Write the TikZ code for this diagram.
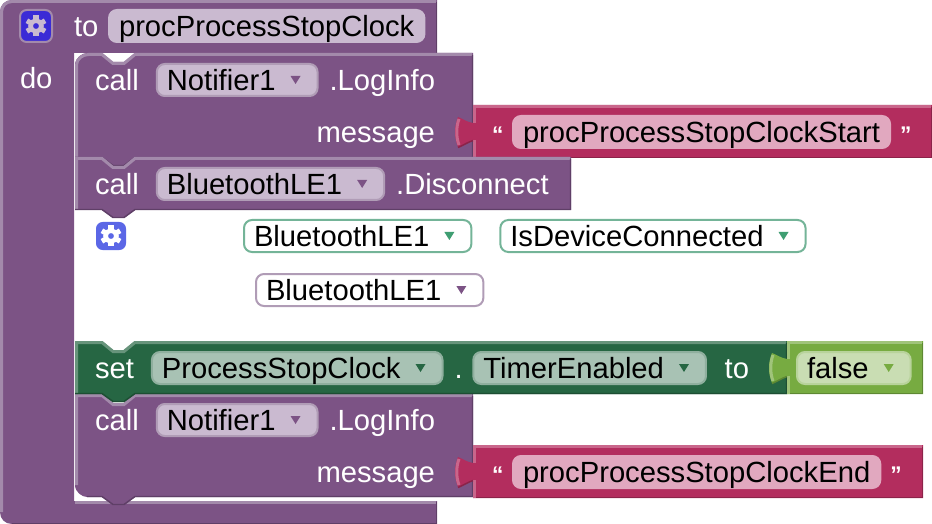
\documentclass[tikz,border=0pt]{standalone}
\usepackage{fontspec}
\setmainfont{Liberation Sans}
\usepackage{xcolor}
\definecolor{procmain}{HTML}{7C5385}
\definecolor{proclight}{HTML}{A38AAB}
\definecolor{procdark}{HTML}{5F3F67}
\definecolor{procfield}{HTML}{CABAD0}
\definecolor{procedge}{HTML}{B09CB6}
\definecolor{setmain}{HTML}{266643}
\definecolor{setlight}{HTML}{67947B}
\definecolor{setdark}{HTML}{1D4E33}
\definecolor{setfield}{HTML}{A8C2B4}
\definecolor{setedge}{HTML}{8FAF9E}
\definecolor{textmain}{HTML}{B32D5E}
\definecolor{textlight}{HTML}{C9668B}
\definecolor{textdark}{HTML}{8C2349}
\definecolor{textfield}{HTML}{E1A8BF}
\definecolor{limemain}{HTML}{77AB41}
\definecolor{limelight}{HTML}{A0C47A}
\definecolor{limedark}{HTML}{5E8833}
\definecolor{limefield}{HTML}{C9DDB3}
\definecolor{limeedge}{HTML}{B8D39B}
\definecolor{mintedge}{HTML}{74B498}
\definecolor{minttri}{HTML}{3F9E72}
\definecolor{gearblue}{HTML}{3A2BD6}
\definecolor{gearsoft}{HTML}{5B67E6}
\usepackage{tikz}
\usetikzlibrary{positioning}
% statement block with notch on top and tab below
\newcommand{\stackblock}[8]{
  \fill[#1] (75,#5+#7) .. controls (75,#5+#7*0.4) and (75+#7*0.6,#5) .. (75+#7,#5) -- (102,#5) -- (113,#5+9) -- (124,#5+9) -- (135,#5) -- (#4,#5) -- (#4,#6) -- (135,#6) -- (124,#6+8) -- (113,#6+8) -- (102,#6) -- (75+#8,#6) .. controls (75+#8*0.6,#6) and (75,#6-#8*0.4) .. (75,#6-#8) -- cycle;
  \draw[#2,edge] (76.5,#6-#8) -- (76.5,#5+#7) .. controls (76.5,#5+#7*0.5) and (76.5+#7*0.5,#5+1.5) .. (76.5+#7,#5+1.5) -- (102,#5+1.5) -- (113,#5+10.5) -- (124,#5+10.5) -- (135,#5+1.5) -- (#4-1,#5+1.5);
  \draw[#3,rim] (#4-0.5,#5+2) -- (#4-0.5,#6-0.5) -- (135,#6-0.5) -- (124,#6+7.5) -- (113,#6+7.5) -- (102,#6-0.5) -- (75+#8,#6-0.5);
}
% value block with the puzzle tab on its left side
\newcommand{\valueblock}[7]{
  \fill[#1] (#4,#6) -- (#5,#6) -- (#5,#7) -- (#4,#7) -- (#4,#6+35) .. controls (#4-6,#6+37) and (#4-10,#6+40) .. (#4-15,#6+42) .. controls (#4-19,#6+32) and (#4-19,#6+22) .. (#4-15,#6+12) .. controls (#4-10,#6+14) and (#4-6,#6+17) .. (#4,#6+18) -- cycle;
  \draw[#2,edge] (#4+1.5,#7) -- (#4+1.5,#6+35);
  \draw[#2,edge] (#4+1.5,#6+18) -- (#4+1.5,#6+1.5) -- (#5-1,#6+1.5);
  \draw[#2,edge] (#4-14,#6+40) .. controls (#4-17,#6+32) and (#4-17,#6+22) .. (#4-14,#6+14);
  \draw[#3,rim] (#5-0.5,#6+2) -- (#5-0.5,#7-0.5) -- (#4+3,#7-0.5);
  \draw[#3,rim] (#4,#6+35.5) .. controls (#4-6,#6+37.5) and (#4-10,#6+40.5) .. (#4-15,#6+42.5);
}
\newcommand{\dropmark}[3][-22]{
  \fill[#3,shift={(#2.east)},xshift=#1*0.75pt] (-5,-4) -- (5,-4) -- (0,4) -- cycle;
}
\newcommand{\gearicon}[2]{
  \begin{scope}[shift={(#1)}]
    \draw[#2,line width=3.4pt] (0,0) circle (5.5);
    \foreach \a in {30,90,...,330}
      \draw[#2,line width=3.8pt] (\a:5.5) -- (\a:10.5);
  \end{scope}
}
\begin{document}
\begin{tikzpicture}[
  x=0.75pt,y=-0.75pt,
  edge/.style={line width=2.25pt},
  rim/.style={line width=1.1pt},
  labeltext/.style={inner sep=0pt,outer sep=0pt,text=white,text height=19.9pt,text depth=4.1pt,font=\fontsize{21.9pt}{24pt}\selectfont},
  quotemark/.style={labeltext,font=\fontsize{17pt}{20pt}\selectfont\bfseries},
  field/.style={rounded corners=6pt,line width=1.5pt,inner ysep=0pt,inner xsep=7.5pt,outer sep=0pt,text=black,text height=19.9pt,text depth=4.1pt,font=\fontsize{21.9pt}{24pt}\selectfont},
  dropdown/.style={field,execute at end node=\hspace{24pt}},
  procfld/.style={dropdown,draw=procedge,fill=procfield},
  setfld/.style={dropdown,draw=setedge,fill=setfield},
  limefld/.style={dropdown,draw=limeedge,fill=limefield},
  mintfld/.style={dropdown,draw=mintedge,fill=white},
  plainfld/.style={dropdown,draw=procedge,fill=white},
  namefld/.style={field,draw=procfield,fill=procfield},
  stringfld/.style={field,draw=textfield,fill=textfield}
]
\useasboundingbox (0,0) rectangle (932,524);
% procedure frame
\fill[procmain] (0,12) .. controls (0,5) and (5,0) .. (12,0) -- (437,0) -- (437,53) -- (74,53) -- (74,501) -- (437,501) -- (437,524) -- (12,524) .. controls (5,524) and (0,519) .. (0,512) -- cycle;
\draw[proclight,edge] (1.5,512) -- (1.5,12) .. controls (1.5,6) and (6,1.5) .. (12,1.5) -- (436,1.5);
\draw[proclight,edge] (75,502.5) -- (436,502.5);
\draw[procdark,rim] (436.5,2) -- (436.5,53);
\draw[procdark,rim] (436.5,502) -- (436.5,523.5) -- (12,523.5);
\fill[gearblue,draw=proclight,line width=1.5pt,rounded corners=5pt] (20,10) rectangle (52,42);
\gearicon{36,26}{procfield}
\node[labeltext,anchor=west] (toWord) at (74,26) {to};
\node[namefld,right=8pt of toWord] (procName) {procProcessStopClock};
\node[labeltext,anchor=west] (doWord) at (20,78) {do};
% first call
\stackblock{procmain}{proclight}{procdark}{473}{53}{158}{12}{0}
\valueblock{textmain}{textlight}{textdark}{473}{932}{105}{158}
\stackblock{procmain}{proclight}{procdark}{571}{157}{210}{0}{0}
\node[labeltext,anchor=west] (callOne) at (95,80) {call};
\node[procfld,right=13.5pt of callOne] (notifierOne) {Notifier1};
\dropmark{notifierOne}{procmain}
\node[labeltext,right=9pt of notifierOne] (logOne) {.LogInfo};
\node[labeltext,anchor=east] (msgOne) at (435,132) {message};
\node[quotemark,anchor=west] (quoteOpenOne) at (492,132) {“};
\node[stringfld,anchor=west] (startText) at (513,132) {procProcessStopClockStart};
\node[quotemark,right=7.5pt of startText] (quoteCloseOne) {”};
% second call
\node[labeltext,anchor=west] (callTwo) at (95,184) {call};
\node[procfld,right=13.5pt of callTwo] (bleOne) {BluetoothLE1};
\dropmark{bleOne}{procmain}
\node[labeltext,right=9pt of bleOne] (disconnectWord) {.Disconnect};
% white blocks in the gap
\fill[gearsoft,rounded corners=5pt] (96,222) rectangle (126,250);
\gearicon{111,236}{white}
\node[mintfld,anchor=west] (bleTwo) at (244,236) {BluetoothLE1};
\dropmark{bleTwo}{minttri}
\node[mintfld,right=21.75pt of bleTwo] (connectedProp) {IsDeviceConnected};
\dropmark{connectedProp}{minttri}
\node[plainfld,anchor=west] (bleThree) at (256,290) {BluetoothLE1};
\dropmark{bleThree}{procmain}
% last call, the set block lies over its notch
\stackblock{procmain}{proclight}{procdark}{473}{394}{497}{0}{12}
\valueblock{textmain}{textlight}{textdark}{473}{923}{445}{498}
\node[labeltext,anchor=west] (callThree) at (95,420) {call};
\node[procfld,right=13.5pt of callThree] (notifierTwo) {Notifier1};
\dropmark{notifierTwo}{procmain}
\node[labeltext,right=9pt of notifierTwo] (logTwo) {.LogInfo};
\node[labeltext,anchor=east] (msgTwo) at (435,472) {message};
\node[quotemark,anchor=west] (quoteOpenTwo) at (492,472) {“};
\node[stringfld,anchor=west] (endText) at (513,472) {procProcessStopClockEnd};
\node[quotemark,right=7.5pt of endText] (quoteCloseTwo) {”};
% set block
\stackblock{setmain}{setlight}{setdark}{787}{341}{394}{0}{0}
\valueblock{limemain}{limelight}{limedark}{787}{923}{341}{394}
\node[labeltext,anchor=west] (setWord) at (95,368) {set};
\node[setfld,right=13.5pt of setWord] (clockName) {ProcessStopClock};
\dropmark{clockName}{setmain}
\node[labeltext,right=9pt of clockName] (dotWord) {.};
\node[setfld,right=8pt of dotWord] (timerProp) {TimerEnabled};
\dropmark{timerProp}{setmain}
\node[labeltext,right=14pt of timerProp] (toWordTwo) {to};
\node[limefld,anchor=west] (falseValue) at (797,368) {false};
\dropmark{falseValue}{limemain}
\end{tikzpicture}
\end{document}
